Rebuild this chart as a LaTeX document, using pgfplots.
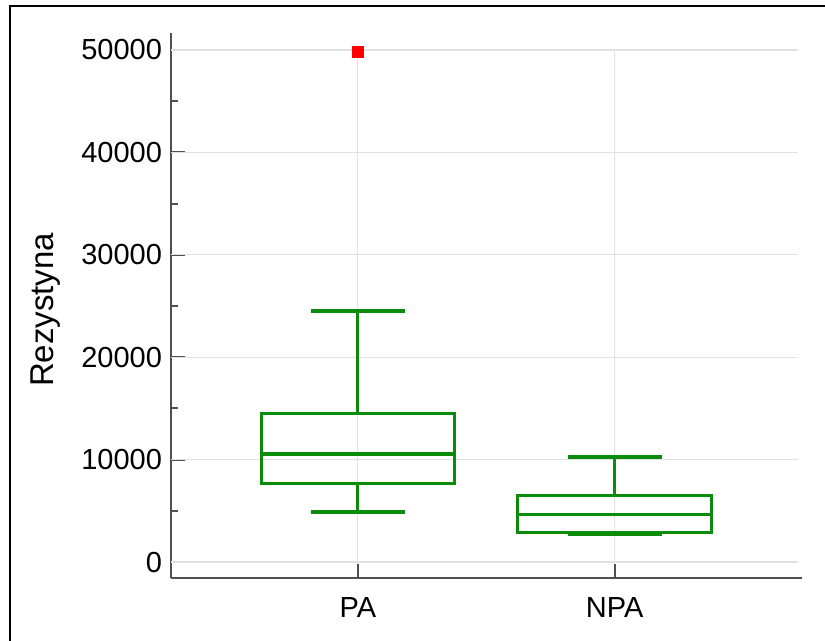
\documentclass[border=0pt]{standalone}
\usepackage{fontspec}
\setmainfont{Liberation Sans}
\usepackage{pgfplots}
\pgfplotsset{compat=1.18}
\definecolor{boxgreen}{RGB}{10,140,10}
\definecolor{axgray}{RGB}{80,80,80}
\definecolor{gridgray}{RGB}{225,225,225}
\begin{document}
\begin{tikzpicture}
\path[use as bounding box] (-85.5pt,-31.5pt) rectangle (327pt,289pt);
\draw[black, line width=1.1pt] (-80.5pt,-31.5pt) -- (-80.5pt,286pt) -- (327pt,286pt);
% values in thousands
\begin{axis}[
  at={(0,0)}, anchor=south west,
  scale only axis, width=315.5pt, height=272.5pt,
  xmin=0.272, xmax=2.73,
  ymin=-1.56, ymax=51.66,
  axis x line*=bottom, axis y line*=left,
  axis line style={axgray, line width=1.3pt},
  xtick={1,2}, xticklabels={PA,NPA},
  ytick={0,10,20,30,40,50},
  yticklabels={0,10000,20000,30000,40000,50000},
  minor ytick={5,15,25,35,45},
  tick align=inside,
  major tick length=7pt, minor tick length=3.7pt,
  tick style={axgray, line width=1pt},
  yticklabel style={font=\fontsize{14.5}{17}\selectfont, xshift=-1pt},
  xticklabel style={font=\fontsize{14.5}{17}\selectfont, yshift=-6pt},
  ylabel={Rezystyna},
  ylabel style={at={(axis description cs:-0.198,0.492)}, anchor=center, font=\fontsize{16.5}{19}\selectfont},
]
\addplot[gridgray, line width=0.6pt, forget plot] coordinates {(0.272,0) (2.715,0)};
\addplot[gridgray, line width=0.6pt, forget plot] coordinates {(0.272,10) (2.715,10)};
\addplot[gridgray, line width=0.6pt, forget plot] coordinates {(0.272,20) (2.715,20)};
\addplot[gridgray, line width=0.6pt, forget plot] coordinates {(0.272,30) (2.715,30)};
\addplot[gridgray, line width=0.6pt, forget plot] coordinates {(0.272,40) (2.715,40)};
\addplot[gridgray, line width=0.6pt, forget plot] coordinates {(0.272,50) (2.715,50)};
\addplot[gridgray, line width=0.6pt, forget plot] coordinates {(1,0) (1,50)};
\addplot[gridgray, line width=0.6pt, forget plot] coordinates {(2,0) (2,50)};
% PA box
\addplot[boxgreen, line width=1.6pt] coordinates {(0.623,7.69) (1.377,7.69) (1.377,14.52) (0.623,14.52) (0.623,7.69)} -- cycle;
\addplot[boxgreen, line width=1.6pt] coordinates {(0.623,10.55) (1.377,10.55)};
\addplot[boxgreen, line width=1.6pt] coordinates {(1,14.52) (1,24.51)};
\addplot[boxgreen, line width=1.6pt] coordinates {(0.817,24.51) (1.183,24.51)};
\addplot[boxgreen, line width=1.6pt] coordinates {(1,7.69) (1,4.88)};
\addplot[boxgreen, line width=1.6pt] coordinates {(0.817,4.88) (1.183,4.88)};
% NPA box
\addplot[boxgreen, line width=1.6pt] coordinates {(1.623,2.86) (2.377,2.86) (2.377,6.51) (1.623,6.51) (1.623,2.86)} -- cycle;
\addplot[boxgreen, line width=1.6pt] coordinates {(1.623,4.66) (2.377,4.66)};
\addplot[boxgreen, line width=1.6pt] coordinates {(2,6.51) (2,10.25)};
\addplot[boxgreen, line width=1.6pt] coordinates {(1.817,10.25) (2.183,10.25)};
\addplot[boxgreen, line width=1.6pt] coordinates {(1.817,2.73) (2.183,2.73)};
% outlier
\addplot[only marks, mark=square*, mark size=2.6pt, mark options={fill=red, draw=red}] coordinates {(1,49.8)};
\end{axis}
\end{tikzpicture}
\end{document}
